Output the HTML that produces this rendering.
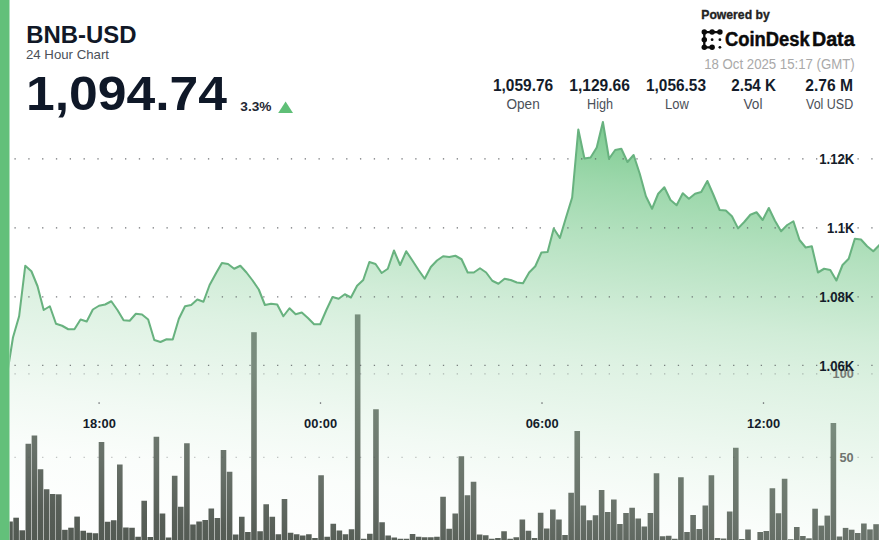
<!DOCTYPE html>
<html><head><meta charset="utf-8"><title>BNB-USD</title>
<style>html,body{margin:0;padding:0;background:#fff}body{width:879px;height:540px;overflow:hidden}svg{display:block}text{font-family:"Liberation Sans",sans-serif}</style></head><body>
<svg width="879" height="540" viewBox="0 0 879 540">
<defs><linearGradient id="ag" gradientUnits="userSpaceOnUse" x1="0" y1="0" x2="-66.08" y2="592.6">
<stop offset="0.0000" stop-color="#5fbf77" stop-opacity="0.84"/>
<stop offset="0.1000" stop-color="#5fbf77" stop-opacity="0.8"/>
<stop offset="0.1933" stop-color="#5fbf77" stop-opacity="0.61"/>
<stop offset="0.2800" stop-color="#5fbf77" stop-opacity="0.47"/>
<stop offset="0.4100" stop-color="#5fbf77" stop-opacity="0.29"/>
<stop offset="0.4883" stop-color="#5fbf77" stop-opacity="0.21"/>
<stop offset="0.5667" stop-color="#5fbf77" stop-opacity="0.15"/>
<stop offset="0.6500" stop-color="#5fbf77" stop-opacity="0.085"/>
<stop offset="0.7383" stop-color="#5fbf77" stop-opacity="0.032"/>
<stop offset="0.8333" stop-color="#5fbf77" stop-opacity="0.01"/>
<stop offset="0.9383" stop-color="#5fbf77" stop-opacity="0"/>
<stop offset="1.0000" stop-color="#5fbf77" stop-opacity="0"/>
</linearGradient><linearGradient id="bg" gradientUnits="userSpaceOnUse" x1="0" y1="0" x2="-66.08" y2="592.6">
<stop offset="0.0000" stop-color="rgb(120, 143, 125)"/>
<stop offset="0.4667" stop-color="rgb(120, 143, 125)"/>
<stop offset="0.5633" stop-color="rgb(121, 139, 125)"/>
<stop offset="0.6117" stop-color="rgb(116, 131, 118)"/>
<stop offset="0.7400" stop-color="rgb(104, 113, 105)"/>
<stop offset="0.8367" stop-color="rgb(87, 94, 87)"/>
<stop offset="0.9333" stop-color="rgb(79, 86, 79)"/>
<stop offset="1.0000" stop-color="rgb(79, 86, 79)"/>
</linearGradient><clipPath id="cp"><rect x="9.5" y="0" width="870" height="540"/></clipPath></defs>
<rect width="879" height="540" fill="#fff"/>
<g clip-path="url(#cp)">
<path d="M6.83,376.00 L12.97,337.50 L19.12,316.25 L25.26,265.75 L31.41,271.25 L37.55,286.25 L43.70,310.00 L49.84,306.25 L55.98,323.75 L62.13,325.75 L68.28,329.25 L74.42,329.25 L80.56,319.50 L86.71,321.50 L92.86,309.50 L99.00,305.75 L105.14,304.50 L111.29,301.25 L117.44,310.00 L123.58,320.25 L129.72,320.75 L135.87,313.75 L142.01,314.50 L148.16,319.50 L154.31,340.00 L160.45,342.00 L166.59,339.25 L172.74,339.50 L178.88,318.75 L185.03,306.25 L191.18,305.00 L197.32,299.50 L203.46,301.75 L209.61,285.00 L215.75,273.75 L221.90,263.00 L228.04,264.00 L234.19,268.75 L240.33,265.75 L246.48,272.50 L252.62,280.50 L258.77,289.50 L264.91,305.00 L271.06,303.75 L277.20,304.50 L283.35,316.25 L289.50,308.25 L295.64,314.25 L301.78,312.50 L307.93,318.00 L314.07,324.25 L320.22,324.25 L326.37,310.00 L332.51,297.00 L338.65,298.75 L344.80,294.25 L350.94,297.50 L357.09,285.75 L363.23,280.00 L369.38,262.00 L375.52,264.00 L381.67,273.00 L387.81,268.75 L393.96,250.50 L400.10,265.00 L406.25,251.25 L412.39,260.50 L418.54,270.00 L424.69,278.75 L430.83,267.00 L436.97,260.50 L443.12,256.25 L449.26,257.00 L455.41,255.75 L461.55,259.25 L467.70,272.50 L473.84,272.50 L479.99,268.25 L486.13,272.50 L492.28,280.75 L498.42,283.75 L504.57,278.75 L510.71,280.00 L516.86,282.50 L523.00,283.25 L529.15,272.50 L535.29,266.25 L541.44,252.50 L547.59,252.00 L553.73,228.50 L559.88,238.00 L566.02,217.50 L572.16,197.50 L578.31,129.50 L584.45,158.50 L590.60,157.50 L596.74,147.50 L602.89,122.00 L609.03,158.75 L615.18,150.00 L621.32,148.75 L627.47,162.00 L633.62,155.00 L639.76,173.75 L645.90,196.25 L652.05,208.75 L658.19,193.75 L664.34,187.25 L670.49,200.00 L676.63,205.25 L682.77,193.25 L688.92,198.75 L695.06,193.75 L701.21,192.00 L707.35,181.00 L713.50,195.00 L719.64,210.00 L725.79,210.60 L731.93,216.25 L738.08,228.40 L744.22,222.00 L750.37,214.75 L756.51,212.25 L762.66,220.00 L768.80,208.00 L774.95,220.75 L781.09,231.25 L787.24,225.00 L793.38,221.25 L799.53,240.00 L805.67,247.50 L811.82,246.25 L817.96,272.50 L824.11,268.75 L830.25,270.00 L836.40,280.50 L842.54,265.00 L848.69,258.75 L854.83,238.75 L860.98,239.50 L867.12,246.25 L873.27,251.25 L879.41,245.00 L879.41,541 L6.83,541 Z" fill="url(#ag)"/>
<g fill="url(#bg)">
<rect x="7.22" y="521.50" width="5.6" height="19.50"/>
<rect x="13.32" y="517.70" width="5.6" height="23.30"/>
<rect x="19.42" y="530.30" width="5.6" height="10.70"/>
<rect x="25.52" y="443.75" width="5.6" height="97.25"/>
<rect x="31.62" y="435.50" width="5.6" height="105.50"/>
<rect x="37.72" y="469.25" width="5.6" height="71.75"/>
<rect x="43.81" y="489.25" width="5.6" height="51.75"/>
<rect x="49.91" y="494.00" width="5.6" height="47.00"/>
<rect x="56.01" y="494.30" width="5.6" height="46.70"/>
<rect x="62.11" y="529.80" width="5.6" height="11.20"/>
<rect x="68.21" y="527.70" width="5.6" height="13.30"/>
<rect x="74.31" y="516.60" width="5.6" height="24.40"/>
<rect x="80.41" y="530.75" width="5.6" height="10.25"/>
<rect x="86.51" y="532.75" width="5.6" height="8.25"/>
<rect x="92.61" y="533.25" width="5.6" height="7.75"/>
<rect x="98.70" y="442.00" width="5.6" height="99.00"/>
<rect x="104.80" y="521.75" width="5.6" height="19.25"/>
<rect x="110.90" y="520.25" width="5.6" height="20.75"/>
<rect x="117.00" y="464.50" width="5.6" height="76.50"/>
<rect x="123.10" y="527.50" width="5.6" height="13.50"/>
<rect x="129.20" y="527.75" width="5.6" height="13.25"/>
<rect x="135.30" y="536.75" width="5.6" height="4.25"/>
<rect x="141.40" y="500.75" width="5.6" height="40.25"/>
<rect x="147.50" y="537.00" width="5.6" height="4.00"/>
<rect x="153.60" y="436.75" width="5.6" height="104.25"/>
<rect x="159.69" y="513.50" width="5.6" height="27.50"/>
<rect x="165.79" y="537.50" width="5.6" height="3.50"/>
<rect x="171.89" y="475.75" width="5.6" height="65.25"/>
<rect x="177.99" y="506.75" width="5.6" height="34.25"/>
<rect x="184.09" y="443.25" width="5.6" height="97.75"/>
<rect x="190.19" y="524.50" width="5.6" height="16.50"/>
<rect x="196.29" y="521.50" width="5.6" height="19.50"/>
<rect x="202.39" y="520.00" width="5.6" height="21.00"/>
<rect x="208.49" y="508.50" width="5.6" height="32.50"/>
<rect x="214.59" y="518.00" width="5.6" height="23.00"/>
<rect x="220.69" y="450.00" width="5.6" height="91.00"/>
<rect x="226.78" y="471.75" width="5.6" height="69.25"/>
<rect x="232.88" y="534.50" width="5.6" height="6.50"/>
<rect x="238.98" y="516.75" width="5.6" height="24.25"/>
<rect x="245.08" y="532.00" width="5.6" height="9.00"/>
<rect x="251.18" y="332.20" width="5.6" height="208.80"/>
<rect x="257.28" y="531.25" width="5.6" height="9.75"/>
<rect x="263.38" y="504.25" width="5.6" height="36.75"/>
<rect x="269.48" y="516.75" width="5.6" height="24.25"/>
<rect x="275.58" y="534.25" width="5.6" height="6.75"/>
<rect x="281.68" y="499.00" width="5.6" height="42.00"/>
<rect x="287.77" y="532.75" width="5.6" height="8.25"/>
<rect x="293.87" y="534.25" width="5.6" height="6.75"/>
<rect x="299.97" y="535.50" width="5.6" height="5.50"/>
<rect x="306.07" y="534.25" width="5.6" height="6.75"/>
<rect x="312.17" y="538.00" width="5.6" height="3.00"/>
<rect x="318.27" y="475.25" width="5.6" height="65.75"/>
<rect x="324.37" y="536.75" width="5.6" height="4.25"/>
<rect x="330.47" y="523.75" width="5.6" height="17.25"/>
<rect x="336.57" y="530.50" width="5.6" height="10.50"/>
<rect x="342.67" y="534.25" width="5.6" height="6.75"/>
<rect x="348.76" y="529.25" width="5.6" height="11.75"/>
<rect x="354.86" y="314.40" width="5.6" height="226.60"/>
<rect x="360.96" y="538.75" width="5.6" height="2.25"/>
<rect x="367.06" y="533.75" width="5.6" height="7.25"/>
<rect x="373.16" y="409.25" width="5.6" height="131.75"/>
<rect x="379.26" y="522.25" width="5.6" height="18.75"/>
<rect x="385.36" y="535.50" width="5.6" height="5.50"/>
<rect x="391.46" y="537.50" width="5.6" height="3.50"/>
<rect x="397.56" y="538.75" width="5.6" height="2.25"/>
<rect x="403.66" y="538.75" width="5.6" height="2.25"/>
<rect x="409.75" y="534.00" width="5.6" height="7.00"/>
<rect x="415.85" y="536.75" width="5.6" height="4.25"/>
<rect x="421.95" y="537.25" width="5.6" height="3.75"/>
<rect x="428.05" y="537.25" width="5.6" height="3.75"/>
<rect x="434.15" y="536.75" width="5.6" height="4.25"/>
<rect x="440.25" y="496.75" width="5.6" height="44.25"/>
<rect x="446.35" y="528.75" width="5.6" height="12.25"/>
<rect x="452.45" y="513.50" width="5.6" height="27.50"/>
<rect x="458.55" y="456.25" width="5.6" height="84.75"/>
<rect x="464.65" y="495.25" width="5.6" height="45.75"/>
<rect x="470.74" y="481.75" width="5.6" height="59.25"/>
<rect x="476.84" y="534.50" width="5.6" height="6.50"/>
<rect x="482.94" y="535.25" width="5.6" height="5.75"/>
<rect x="489.04" y="538.75" width="5.6" height="2.25"/>
<rect x="495.14" y="538.00" width="5.6" height="3.00"/>
<rect x="501.24" y="531.25" width="5.6" height="9.75"/>
<rect x="507.34" y="538.75" width="5.6" height="2.25"/>
<rect x="513.44" y="537.25" width="5.6" height="3.75"/>
<rect x="519.54" y="519.50" width="5.6" height="21.50"/>
<rect x="525.63" y="530.75" width="5.6" height="10.25"/>
<rect x="531.73" y="538.00" width="5.6" height="3.00"/>
<rect x="537.83" y="512.75" width="5.6" height="28.25"/>
<rect x="543.93" y="528.50" width="5.6" height="12.50"/>
<rect x="550.03" y="509.50" width="5.6" height="31.50"/>
<rect x="556.13" y="519.50" width="5.6" height="21.50"/>
<rect x="562.23" y="535.00" width="5.6" height="6.00"/>
<rect x="568.33" y="492.75" width="5.6" height="48.25"/>
<rect x="574.43" y="431.00" width="5.6" height="110.00"/>
<rect x="580.53" y="505.50" width="5.6" height="35.50"/>
<rect x="586.62" y="520.25" width="5.6" height="20.75"/>
<rect x="592.72" y="515.25" width="5.6" height="25.75"/>
<rect x="598.82" y="490.00" width="5.6" height="51.00"/>
<rect x="604.92" y="512.00" width="5.6" height="29.00"/>
<rect x="611.02" y="499.50" width="5.6" height="41.50"/>
<rect x="617.12" y="524.00" width="5.6" height="17.00"/>
<rect x="623.22" y="513.00" width="5.6" height="28.00"/>
<rect x="629.32" y="507.75" width="5.6" height="33.25"/>
<rect x="635.42" y="518.50" width="5.6" height="22.50"/>
<rect x="641.52" y="526.50" width="5.6" height="14.50"/>
<rect x="647.62" y="513.00" width="5.6" height="28.00"/>
<rect x="653.71" y="473.25" width="5.6" height="67.75"/>
<rect x="659.81" y="536.25" width="5.6" height="4.75"/>
<rect x="665.91" y="535.75" width="5.6" height="5.25"/>
<rect x="672.01" y="538.75" width="5.6" height="2.25"/>
<rect x="678.11" y="477.25" width="5.6" height="63.75"/>
<rect x="684.21" y="532.00" width="5.6" height="9.00"/>
<rect x="690.31" y="515.00" width="5.6" height="26.00"/>
<rect x="696.41" y="529.00" width="5.6" height="12.00"/>
<rect x="702.51" y="505.50" width="5.6" height="35.50"/>
<rect x="708.61" y="475.25" width="5.6" height="65.75"/>
<rect x="714.70" y="538.00" width="5.6" height="3.00"/>
<rect x="720.80" y="538.50" width="5.6" height="2.50"/>
<rect x="726.90" y="511.50" width="5.6" height="29.50"/>
<rect x="733.00" y="447.75" width="5.6" height="93.25"/>
<rect x="739.10" y="539.00" width="5.6" height="2.00"/>
<rect x="745.20" y="529.50" width="5.6" height="11.50"/>
<rect x="757.40" y="532.00" width="5.6" height="9.00"/>
<rect x="763.50" y="531.00" width="5.6" height="10.00"/>
<rect x="769.60" y="488.25" width="5.6" height="52.75"/>
<rect x="775.69" y="513.25" width="5.6" height="27.75"/>
<rect x="781.79" y="478.75" width="5.6" height="62.25"/>
<rect x="787.89" y="539.25" width="5.6" height="1.75"/>
<rect x="793.99" y="527.00" width="5.6" height="14.00"/>
<rect x="800.09" y="536.00" width="5.6" height="5.00"/>
<rect x="806.19" y="538.30" width="5.6" height="2.70"/>
<rect x="812.29" y="508.70" width="5.6" height="32.30"/>
<rect x="818.39" y="525.60" width="5.6" height="15.40"/>
<rect x="824.49" y="515.60" width="5.6" height="25.40"/>
<rect x="830.59" y="423.00" width="5.6" height="118.00"/>
<rect x="836.68" y="536.50" width="5.6" height="4.50"/>
<rect x="842.78" y="527.90" width="5.6" height="13.10"/>
<rect x="848.88" y="529.70" width="5.6" height="11.30"/>
<rect x="854.98" y="533.00" width="5.6" height="8.00"/>
<rect x="861.08" y="523.50" width="5.6" height="17.50"/>
<rect x="867.18" y="529.40" width="5.6" height="11.60"/>
<rect x="873.28" y="524.20" width="5.6" height="16.80"/>
</g>
<line x1="14.45" y1="158.9" x2="879" y2="158.9" stroke="#55585c" stroke-opacity="0.85" stroke-width="1.3" stroke-dasharray="1.3 12.52"/>
<line x1="14.45" y1="227.9" x2="879" y2="227.9" stroke="#55585c" stroke-opacity="0.85" stroke-width="1.3" stroke-dasharray="1.3 12.52"/>
<line x1="14.45" y1="296.8" x2="879" y2="296.8" stroke="#55585c" stroke-opacity="0.8" stroke-width="1.3" stroke-dasharray="1.3 12.52"/>
<line x1="14.45" y1="365.4" x2="879" y2="365.4" stroke="#55585c" stroke-opacity="0.75" stroke-width="1.3" stroke-dasharray="1.3 12.52"/>
<line x1="14.45" y1="373.9" x2="879" y2="373.9" stroke="#55585c" stroke-opacity="0.38" stroke-width="1.3" stroke-dasharray="1.3 12.52"/>
<line x1="14.45" y1="457.4" x2="879" y2="457.4" stroke="#55585c" stroke-opacity="0.36" stroke-width="1.3" stroke-dasharray="1.3 12.52"/>
<path d="M6.83,376.00 L12.97,337.50 L19.12,316.25 L25.26,265.75 L31.41,271.25 L37.55,286.25 L43.70,310.00 L49.84,306.25 L55.98,323.75 L62.13,325.75 L68.28,329.25 L74.42,329.25 L80.56,319.50 L86.71,321.50 L92.86,309.50 L99.00,305.75 L105.14,304.50 L111.29,301.25 L117.44,310.00 L123.58,320.25 L129.72,320.75 L135.87,313.75 L142.01,314.50 L148.16,319.50 L154.31,340.00 L160.45,342.00 L166.59,339.25 L172.74,339.50 L178.88,318.75 L185.03,306.25 L191.18,305.00 L197.32,299.50 L203.46,301.75 L209.61,285.00 L215.75,273.75 L221.90,263.00 L228.04,264.00 L234.19,268.75 L240.33,265.75 L246.48,272.50 L252.62,280.50 L258.77,289.50 L264.91,305.00 L271.06,303.75 L277.20,304.50 L283.35,316.25 L289.50,308.25 L295.64,314.25 L301.78,312.50 L307.93,318.00 L314.07,324.25 L320.22,324.25 L326.37,310.00 L332.51,297.00 L338.65,298.75 L344.80,294.25 L350.94,297.50 L357.09,285.75 L363.23,280.00 L369.38,262.00 L375.52,264.00 L381.67,273.00 L387.81,268.75 L393.96,250.50 L400.10,265.00 L406.25,251.25 L412.39,260.50 L418.54,270.00 L424.69,278.75 L430.83,267.00 L436.97,260.50 L443.12,256.25 L449.26,257.00 L455.41,255.75 L461.55,259.25 L467.70,272.50 L473.84,272.50 L479.99,268.25 L486.13,272.50 L492.28,280.75 L498.42,283.75 L504.57,278.75 L510.71,280.00 L516.86,282.50 L523.00,283.25 L529.15,272.50 L535.29,266.25 L541.44,252.50 L547.59,252.00 L553.73,228.50 L559.88,238.00 L566.02,217.50 L572.16,197.50 L578.31,129.50 L584.45,158.50 L590.60,157.50 L596.74,147.50 L602.89,122.00 L609.03,158.75 L615.18,150.00 L621.32,148.75 L627.47,162.00 L633.62,155.00 L639.76,173.75 L645.90,196.25 L652.05,208.75 L658.19,193.75 L664.34,187.25 L670.49,200.00 L676.63,205.25 L682.77,193.25 L688.92,198.75 L695.06,193.75 L701.21,192.00 L707.35,181.00 L713.50,195.00 L719.64,210.00 L725.79,210.60 L731.93,216.25 L738.08,228.40 L744.22,222.00 L750.37,214.75 L756.51,212.25 L762.66,220.00 L768.80,208.00 L774.95,220.75 L781.09,231.25 L787.24,225.00 L793.38,221.25 L799.53,240.00 L805.67,247.50 L811.82,246.25 L817.96,272.50 L824.11,268.75 L830.25,270.00 L836.40,280.50 L842.54,265.00 L848.69,258.75 L854.83,238.75 L860.98,239.50 L867.12,246.25 L873.27,251.25 L879.41,245.00" fill="none" stroke="#68b27f" stroke-width="2.05" stroke-linejoin="round" stroke-linecap="round"/>
</g>
<rect x="0" y="0" width="9.5" height="540" fill="#63c07a"/>
<rect x="98.45" y="402.4" width="1.3" height="1.3" fill="#5a5a60"/>
<rect x="319.85" y="402.4" width="1.3" height="1.3" fill="#5a5a60"/>
<rect x="541.35" y="402.4" width="1.3" height="1.3" fill="#5a5a60"/>
<rect x="762.85" y="402.4" width="1.3" height="1.3" fill="#5a5a60"/>
<text x="26.2" y="42.5" font-size="24.3" font-weight="bold" fill="#111827" text-anchor="start" textLength="110.4" lengthAdjust="spacingAndGlyphs">BNB-USD</text>
<text x="26" y="59.3" font-size="13" font-weight="normal" fill="#4b5058" text-anchor="start" textLength="83" lengthAdjust="spacingAndGlyphs">24 Hour Chart</text>
<text x="26.0" y="110.4" font-size="48.8" font-weight="bold" fill="#0f1828" text-anchor="start" textLength="201.0" lengthAdjust="spacingAndGlyphs">1,094.74</text>
<text x="240.3" y="110.7" font-size="12" font-weight="bold" fill="#1f2733" text-anchor="start" textLength="31.2" lengthAdjust="spacingAndGlyphs">3.3%</text>
<path d="M285.6,101.6 L293,113 L278.2,113 Z" fill="#5fbf77"/>
<text x="701.3" y="18.8" font-size="13" font-weight="bold" fill="#222" text-anchor="start" textLength="68.4" lengthAdjust="spacingAndGlyphs" stroke="#222" stroke-width="0.35">Powered by</text>
<g stroke="#0b0b0b" stroke-width="2.3" stroke-linecap="round" fill="none">
<path d="M719.9,32.1 L704.3,32.1 L704.3,47.3 L712.1,47.3"/></g>
<g fill="#0b0b0b">
<circle cx="704.3" cy="32.1" r="2.75"/>
<circle cx="712.1" cy="32.1" r="2.75"/>
<circle cx="719.9" cy="32.1" r="2.75"/>
<circle cx="704.3" cy="39.7" r="2.75"/>
<circle cx="704.3" cy="47.3" r="2.75"/>
<circle cx="712.1" cy="47.3" r="2.75"/>
<circle cx="712.1" cy="39.7" r="1.4"/>
<circle cx="719.9" cy="39.7" r="1.4"/>
<circle cx="719.9" cy="47.3" r="1.4"/>
</g>
<text x="725.0" y="45.5" font-size="19.4" font-weight="bold" fill="#0b0b0b" text-anchor="start" textLength="84.6" lengthAdjust="spacingAndGlyphs" stroke="#0b0b0b" stroke-width="0.45">CoinDesk</text>
<text x="812.0" y="45.5" font-size="19.4" font-weight="bold" fill="#0b0b0b" text-anchor="start" textLength="42.6" lengthAdjust="spacingAndGlyphs" stroke="#0b0b0b" stroke-width="0.45">Data</text>
<text x="704.2" y="69.4" font-size="14" font-weight="normal" fill="#a9a9a9" text-anchor="start" textLength="150.6" lengthAdjust="spacingAndGlyphs">18 Oct 2025 15:17 (GMT)</text>
<text x="523.1" y="90.5" font-size="16.4" font-weight="bold" fill="#141c2a" text-anchor="middle" textLength="60.3" lengthAdjust="spacingAndGlyphs">1,059.76</text>
<text x="599.6" y="90.5" font-size="16.4" font-weight="bold" fill="#141c2a" text-anchor="middle" textLength="60.7" lengthAdjust="spacingAndGlyphs">1,129.66</text>
<text x="676" y="90.5" font-size="16.4" font-weight="bold" fill="#141c2a" text-anchor="middle" textLength="60.0" lengthAdjust="spacingAndGlyphs">1,056.53</text>
<text x="753.6" y="90.5" font-size="16.4" font-weight="bold" fill="#141c2a" text-anchor="middle" textLength="44.7" lengthAdjust="spacingAndGlyphs">2.54 K</text>
<text x="829.1" y="90.5" font-size="16.4" font-weight="bold" fill="#141c2a" text-anchor="middle" textLength="47.7" lengthAdjust="spacingAndGlyphs">2.76 M</text>
<text x="523.1" y="109.4" font-size="14" font-weight="normal" fill="#4b5058" text-anchor="middle" textLength="33.2" lengthAdjust="spacingAndGlyphs">Open</text>
<text x="600" y="109.4" font-size="14" font-weight="normal" fill="#4b5058" text-anchor="middle" textLength="26" lengthAdjust="spacingAndGlyphs">High</text>
<text x="676.9" y="109.4" font-size="14" font-weight="normal" fill="#4b5058" text-anchor="middle" textLength="23.8" lengthAdjust="spacingAndGlyphs">Low</text>
<text x="753" y="109.4" font-size="14" font-weight="normal" fill="#4b5058" text-anchor="middle" textLength="19" lengthAdjust="spacingAndGlyphs">Vol</text>
<text x="829.6" y="109.4" font-size="14" font-weight="normal" fill="#4b5058" text-anchor="middle" textLength="47.2" lengthAdjust="spacingAndGlyphs">Vol USD</text>
<text x="853.8" y="378.4" font-size="12.7" font-weight="bold" fill="#757a75" text-anchor="end" textLength="21.2" lengthAdjust="spacingAndGlyphs">100</text>
<text x="853.6" y="462.0" font-size="12.7" font-weight="bold" fill="#6f746f" text-anchor="end" textLength="14.2" lengthAdjust="spacingAndGlyphs">50</text>
<text x="854.3" y="163.8" font-size="14.2" font-weight="bold" fill="#141c2a" text-anchor="end" textLength="35.099999999999994" lengthAdjust="spacingAndGlyphs">1.12K</text>
<text x="854.3" y="232.8" font-size="14.2" font-weight="bold" fill="#141c2a" text-anchor="end" textLength="27.3" lengthAdjust="spacingAndGlyphs">1.1K</text>
<text x="854.3" y="301.8" font-size="14.2" font-weight="bold" fill="#141c2a" text-anchor="end" textLength="35.099999999999994" lengthAdjust="spacingAndGlyphs">1.08K</text>
<text x="854.3" y="370.8" font-size="14.2" font-weight="bold" fill="#141c2a" text-anchor="end" textLength="35.099999999999994" lengthAdjust="spacingAndGlyphs">1.06K</text>
<text x="99.35" y="428.3" font-size="13.3" font-weight="bold" fill="#141c2a" text-anchor="middle" textLength="33" lengthAdjust="spacingAndGlyphs">18:00</text>
<text x="320.6" y="428.3" font-size="13.3" font-weight="bold" fill="#141c2a" text-anchor="middle" textLength="33" lengthAdjust="spacingAndGlyphs">00:00</text>
<text x="542.2" y="428.3" font-size="13.3" font-weight="bold" fill="#141c2a" text-anchor="middle" textLength="33" lengthAdjust="spacingAndGlyphs">06:00</text>
<text x="763.6" y="428.3" font-size="13.3" font-weight="bold" fill="#141c2a" text-anchor="middle" textLength="33" lengthAdjust="spacingAndGlyphs">12:00</text>
</svg></body></html>
